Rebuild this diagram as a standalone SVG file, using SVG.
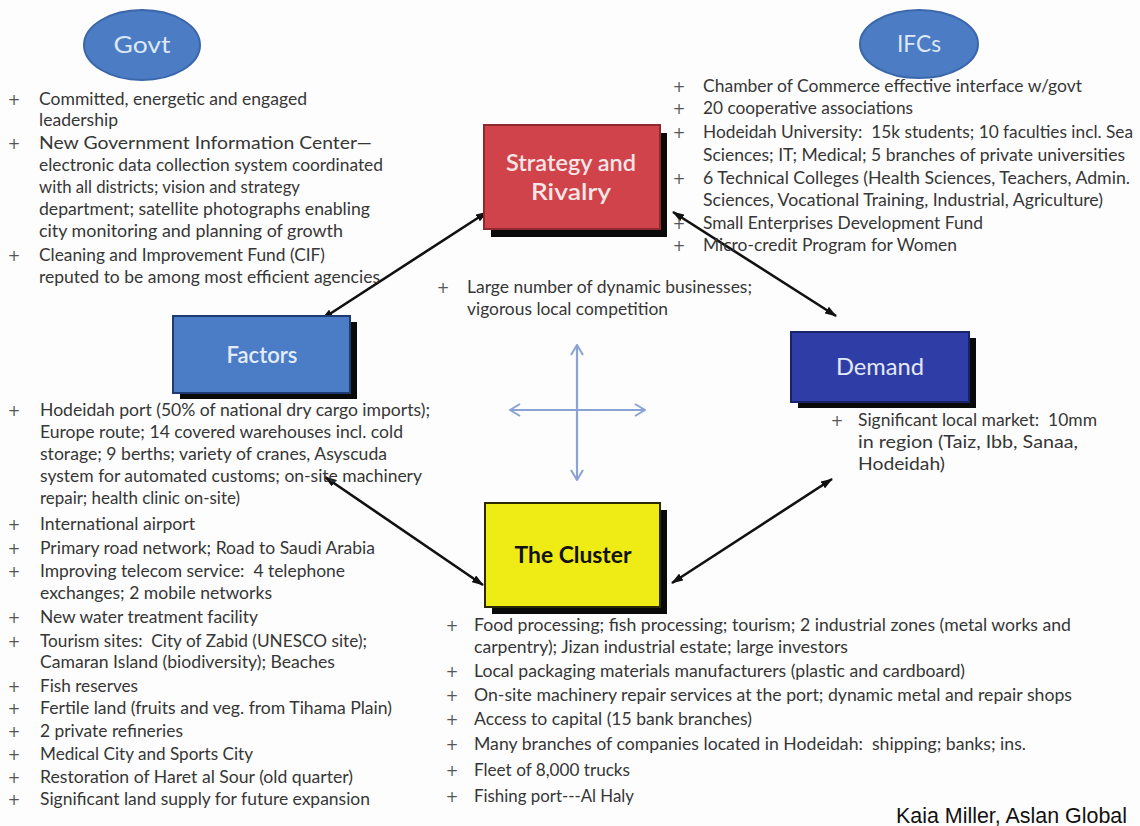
<svg xmlns="http://www.w3.org/2000/svg" width="1140" height="826" viewBox="0 0 1140 826">
<defs>
<style>
.t{font-family:Lato,"Open Sans","DejaVu Sans",sans-serif;font-size:17px;fill:#363636;white-space:pre}
.p{font-family:"DejaVu Sans",sans-serif;font-size:15px;fill:#555;text-anchor:middle}
.lbl{font-family:Lato,"Open Sans",sans-serif;font-size:23px;text-anchor:middle}
.conn{stroke:#111;stroke-width:2.6;fill:none;marker-start:url(#ah);marker-end:url(#ah)}
.cross{stroke:#8aa2d4;stroke-width:2.2;fill:none;marker-start:url(#ch);marker-end:url(#ch)}
.sh{fill:#0a0a0a}
</style>
<marker id="ah" viewBox="0 0 12 8" refX="11" refY="4" markerWidth="12" markerHeight="8" markerUnits="userSpaceOnUse" orient="auto-start-reverse"><path d="M0,0 L12,4 L0,8 Z" fill="#111"/></marker>
<marker id="ch" viewBox="0 0 12 14" refX="11" refY="7" markerWidth="12" markerHeight="14" markerUnits="userSpaceOnUse" orient="auto-start-reverse"><path d="M1,1 L11,7 L1,13" fill="none" stroke="#8aa2d4" stroke-width="2"/></marker>
</defs>
<rect width="1140" height="826" fill="#fdfdfd"/>

<g id="connectors">
<line class="conn" x1="487" y1="212" x2="322" y2="319"/>
<line class="conn" x1="673" y1="212" x2="836" y2="316"/>
<line class="conn" x1="325" y1="477" x2="483" y2="585"/>
<line class="conn" x1="672" y1="583" x2="832" y2="479"/>
<line class="cross" x1="577" y1="480" x2="577" y2="345"/>
<line class="cross" x1="510" y1="410" x2="645" y2="410"/>
</g>

<g id="govt">
<ellipse cx="142" cy="45" rx="58" ry="35" fill="#4b7cc4" stroke="#3a66aa" stroke-width="2"/>
<text class="lbl" x="142" y="53" fill="#dde8f7" textLength="57" lengthAdjust="spacingAndGlyphs">Govt</text>
</g>
<g id="govt-list">
<text class="p" x="14" y="105">+</text>
<text class="t" x="39" y="105" textLength="268" lengthAdjust="spacingAndGlyphs">Committed, energetic and engaged</text>
<text class="t" x="39" y="126" textLength="79" lengthAdjust="spacingAndGlyphs">leadership</text>
<text class="p" x="14" y="149">+</text>
<text class="t" x="39" y="149" textLength="333" lengthAdjust="spacingAndGlyphs">New Government Information Center—</text>
<text class="t" x="39" y="171" textLength="344" lengthAdjust="spacingAndGlyphs">electronic data collection system coordinated</text>
<text class="t" x="39" y="193" textLength="261" lengthAdjust="spacingAndGlyphs">with all districts; vision and strategy</text>
<text class="t" x="39" y="215" textLength="331" lengthAdjust="spacingAndGlyphs">department; satellite photographs enabling</text>
<text class="t" x="39" y="237" textLength="304" lengthAdjust="spacingAndGlyphs">city monitoring and planning of growth</text>
<text class="p" x="14" y="261">+</text>
<text class="t" x="39" y="261" textLength="286" lengthAdjust="spacingAndGlyphs">Cleaning and Improvement Fund (CIF)</text>
<text class="t" x="39" y="283" textLength="341" lengthAdjust="spacingAndGlyphs">reputed to be among most efficient agencies</text>
</g>

<g id="ifcs">
<ellipse cx="919" cy="44" rx="59" ry="34" fill="#4b7cc4" stroke="#3a66aa" stroke-width="2"/>
<text class="lbl" x="919" y="52" fill="#dde8f7" textLength="44" lengthAdjust="spacingAndGlyphs">IFCs</text>
</g>
<g id="ifcs-list">
<text class="p" x="679" y="92">+</text>
<text class="t" x="703" y="92" textLength="379" lengthAdjust="spacingAndGlyphs">Chamber of Commerce effective interface w/govt</text>
<text class="p" x="679" y="114">+</text>
<text class="t" x="703" y="114" textLength="210" lengthAdjust="spacingAndGlyphs">20 cooperative associations</text>
<text class="p" x="679" y="138">+</text>
<text class="t" x="703" y="138" textLength="430" lengthAdjust="spacingAndGlyphs">Hodeidah University:  15k students; 10 faculties incl. Sea</text>
<text class="t" x="703" y="161" textLength="422" lengthAdjust="spacingAndGlyphs">Sciences; IT; Medical; 5 branches of private universities</text>
<text class="p" x="679" y="184">+</text>
<text class="t" x="703" y="184" textLength="427" lengthAdjust="spacingAndGlyphs">6 Technical Colleges (Health Sciences, Teachers, Admin.</text>
<text class="t" x="703" y="206" textLength="400" lengthAdjust="spacingAndGlyphs">Sciences, Vocational Training, Industrial, Agriculture)</text>
<text class="p" x="679" y="229">+</text>
<text class="t" x="703" y="229" textLength="280" lengthAdjust="spacingAndGlyphs">Small Enterprises Development Fund</text>
<text class="p" x="679" y="251">+</text>
<text class="t" x="703" y="251" textLength="254" lengthAdjust="spacingAndGlyphs">Micro-credit Program for Women</text>
</g>

<g id="strategy">
<rect class="sh" x="491" y="133" width="176" height="104"/>
<rect x="484" y="125" width="176" height="104" fill="#d1434b" stroke="#8e2a2e" stroke-width="2"/>
<text class="lbl" x="571" y="171" fill="#f6e6e6" font-weight="600" textLength="130" lengthAdjust="spacingAndGlyphs">Strategy and</text>
<text class="lbl" x="571" y="200" fill="#f6e6e6" font-weight="600" textLength="80" lengthAdjust="spacingAndGlyphs">Rivalry</text>
</g>
<g id="strategy-list">
<text class="p" x="443" y="293">+</text>
<text class="t" x="467" y="293" textLength="285" lengthAdjust="spacingAndGlyphs">Large number of dynamic businesses;</text>
<text class="t" x="467" y="315" textLength="201" lengthAdjust="spacingAndGlyphs">vigorous local competition</text>
</g>

<g id="factors">
<rect class="sh" x="180" y="322" width="177" height="77"/>
<rect x="173" y="316" width="177" height="77" fill="#4b7cc6" stroke="#1d3a72" stroke-width="2"/>
<text class="lbl" x="262" y="363" fill="#e3edf9" font-weight="600" textLength="71" lengthAdjust="spacingAndGlyphs">Factors</text>
</g>
<g id="factors-list">
<text class="p" x="14" y="416">+</text>
<text class="t" x="40" y="416" textLength="390" lengthAdjust="spacingAndGlyphs">Hodeidah port (50% of national dry cargo imports);</text>
<text class="t" x="40" y="438" textLength="363" lengthAdjust="spacingAndGlyphs">Europe route; 14 covered warehouses incl. cold</text>
<text class="t" x="40" y="460" textLength="347" lengthAdjust="spacingAndGlyphs">storage; 9 berths; variety of cranes, Asyscuda</text>
<text class="t" x="40" y="482" textLength="382" lengthAdjust="spacingAndGlyphs">system for automated customs; on-site machinery</text>
<text class="t" x="40" y="504" textLength="200" lengthAdjust="spacingAndGlyphs">repair; health clinic on-site)</text>
<text class="p" x="14" y="530">+</text>
<text class="t" x="40" y="530" textLength="155" lengthAdjust="spacingAndGlyphs">International airport</text>
<text class="p" x="14" y="554">+</text>
<text class="t" x="40" y="554" textLength="335" lengthAdjust="spacingAndGlyphs">Primary road network; Road to Saudi Arabia</text>
<text class="p" x="14" y="577">+</text>
<text class="t" x="40" y="577" textLength="305" lengthAdjust="spacingAndGlyphs">Improving telecom service:  4 telephone</text>
<text class="t" x="40" y="599" textLength="232" lengthAdjust="spacingAndGlyphs">exchanges; 2 mobile networks</text>
<text class="p" x="14" y="623">+</text>
<text class="t" x="40" y="623" textLength="218" lengthAdjust="spacingAndGlyphs">New water treatment facility</text>
<text class="p" x="14" y="647">+</text>
<text class="t" x="40" y="647" textLength="327" lengthAdjust="spacingAndGlyphs">Tourism sites:  City of Zabid (UNESCO site);</text>
<text class="t" x="40" y="668" textLength="295" lengthAdjust="spacingAndGlyphs">Camaran Island (biodiversity); Beaches</text>
<text class="p" x="14" y="692">+</text>
<text class="t" x="40" y="692" textLength="98" lengthAdjust="spacingAndGlyphs">Fish reserves</text>
<text class="p" x="14" y="714">+</text>
<text class="t" x="40" y="714" textLength="352" lengthAdjust="spacingAndGlyphs">Fertile land (fruits and veg. from Tihama Plain)</text>
<text class="p" x="14" y="737">+</text>
<text class="t" x="40" y="737" textLength="143" lengthAdjust="spacingAndGlyphs">2 private refineries</text>
<text class="p" x="14" y="760">+</text>
<text class="t" x="40" y="760" textLength="213" lengthAdjust="spacingAndGlyphs">Medical City and Sports City</text>
<text class="p" x="14" y="783">+</text>
<text class="t" x="40" y="783" textLength="313" lengthAdjust="spacingAndGlyphs">Restoration of Haret al Sour (old quarter)</text>
<text class="p" x="14" y="805">+</text>
<text class="t" x="40" y="805" textLength="330" lengthAdjust="spacingAndGlyphs">Significant land supply for future expansion</text>
</g>

<g id="demand">
<rect class="sh" x="798" y="338" width="178" height="70"/>
<rect x="791" y="332" width="178" height="70" fill="#2f3ea6" stroke="#1a2368" stroke-width="2"/>
<text class="lbl" x="880" y="375" fill="#e3e8f7" textLength="88" lengthAdjust="spacingAndGlyphs">Demand</text>
</g>
<g id="demand-list">
<text class="p" x="837" y="426">+</text>
<text class="t" x="858" y="426" textLength="239" lengthAdjust="spacingAndGlyphs">Significant local market:  10mm</text>
<text class="t" x="858" y="448" textLength="220" lengthAdjust="spacingAndGlyphs">in region (Taiz, Ibb, Sanaa,</text>
<text class="t" x="858" y="470" textLength="87" lengthAdjust="spacingAndGlyphs">Hodeidah)</text>
</g>

<g id="cluster">
<rect class="sh" x="492" y="510" width="175" height="104"/>
<rect x="485" y="503" width="175" height="104" fill="#efeb14" stroke="#2a2a00" stroke-width="2"/>
<text class="lbl" x="573" y="563" fill="#111" font-weight="700" textLength="117" lengthAdjust="spacingAndGlyphs">The Cluster</text>
</g>
<g id="cluster-list">
<text class="p" x="452" y="631">+</text>
<text class="t" x="474" y="631" textLength="597" lengthAdjust="spacingAndGlyphs">Food processing; fish processing; tourism; 2 industrial zones (metal works and</text>
<text class="t" x="474" y="653" textLength="374" lengthAdjust="spacingAndGlyphs">carpentry); Jizan industrial estate; large investors</text>
<text class="p" x="452" y="677">+</text>
<text class="t" x="474" y="677" textLength="491" lengthAdjust="spacingAndGlyphs">Local packaging materials manufacturers (plastic and cardboard)</text>
<text class="p" x="452" y="701">+</text>
<text class="t" x="474" y="701" textLength="598" lengthAdjust="spacingAndGlyphs">On-site machinery repair services at the port; dynamic metal and repair shops</text>
<text class="p" x="452" y="725">+</text>
<text class="t" x="474" y="725" textLength="278" lengthAdjust="spacingAndGlyphs">Access to capital (15 bank branches)</text>
<text class="p" x="452" y="750">+</text>
<text class="t" x="474" y="750" textLength="552" lengthAdjust="spacingAndGlyphs">Many branches of companies located in Hodeidah:  shipping; banks; ins.</text>
<text class="p" x="452" y="776">+</text>
<text class="t" x="474" y="776" textLength="156" lengthAdjust="spacingAndGlyphs">Fleet of 8,000 trucks</text>
<text class="p" x="452" y="802">+</text>
<text class="t" x="474" y="802" textLength="160" lengthAdjust="spacingAndGlyphs" fill="#666">Fishing port---Al Haly</text>
</g>

<text x="896" y="823" font-family="'Liberation Sans',Arial,sans-serif" font-size="22" fill="#111" textLength="231" lengthAdjust="spacingAndGlyphs">Kaia Miller, Aslan Global</text>
</svg>
